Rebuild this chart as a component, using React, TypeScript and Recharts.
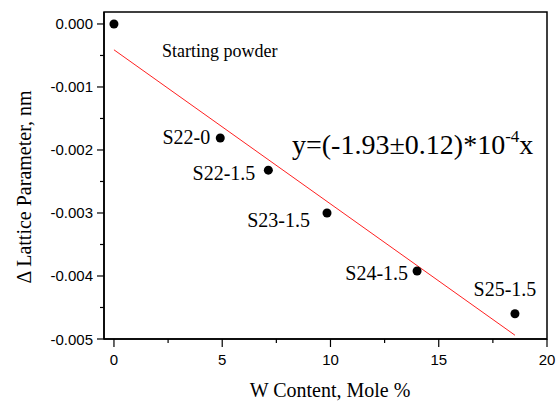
import React from "react";
import { ScatterChart, Scatter, XAxis, YAxis, ReferenceArea, Customized } from "recharts";

// sample names and measured values
const samples = ["Starting powder", "S22-0", "S22-1.5", "S23-1.5", "S24-1.5", "S25-1.5"];
const wContent = [0, 4.91, 7.13, 9.84, 14.0, 18.52];
const deltaLattice = [0, -0.00181, -0.00232, -0.003, -0.00392, -0.0046];

// linear fit drawn as a red line
const fitX = [0, 18.52];
const fitY = [-0.00041, -0.00494];

const xMajor = [0, 5, 10, 15, 20];
const xMinor = [2.5, 7.5, 12.5, 17.5];
const yMajor = [-0.005, -0.004, -0.003, -0.002, -0.001, 0];
const yMinor = [-0.0045, -0.0035, -0.0025, -0.0015, -0.0005];

const SERIF = "'Liberation Serif', 'Times New Roman', serif";
const SANS = "'Liberation Sans', Arial, sans-serif";

// where each sample label sits relative to its point
const labelPos = [
  { dx: 48, dy: 33, anchor: "start", size: 18 },
  { dx: -10, dy: 6, anchor: "end", size: 20 },
  { dx: -13, dy: 10, anchor: "end", size: 20 },
  { dx: -17, dy: 14, anchor: "end", size: 20 },
  { dx: -9, dy: 9, anchor: "end", size: 20 },
  { dx: -10, dy: -18, anchor: "middle", size: 20 },
];

const points = samples.map((name, i) => ({ name, idx: i, x: wContent[i], y: deltaLattice[i] }));
const fitData = fitX.map((x, i) => ({ x, y: fitY[i] }));

const isIn = (arr: number[], v: number) => arr.some((m) => Math.abs(m - v) < 1e-9);

const YTick = (props: any) => {
  const { x, y, payload } = props;
  const v = payload.value;
  const major = isIn(yMajor, v);
  return (
    <g>
      <line x1={x - (major ? 7 : 4)} x2={x} y1={y} y2={y} stroke="#000" strokeWidth={1.2} />
      {major && (
        <text x={x - 11} y={y} textAnchor="end" dominantBaseline="central" fontSize={15} fontFamily={SANS} fill="#000">
          {v.toFixed(3)}
        </text>
      )}
    </g>
  );
};

const XTick = (props: any) => {
  const { x, y, payload } = props;
  const v = payload.value;
  const major = isIn(xMajor, v);
  return (
    <g>
      <line x1={x} x2={x} y1={y} y2={y + (major ? 8 : 4)} stroke="#000" strokeWidth={1.2} />
      {major && (
        <text x={x} y={y + 20} textAnchor="middle" dominantBaseline="central" fontSize={15} fontFamily={SANS} fill="#000">
          {v}
        </text>
      )}
    </g>
  );
};

const SamplePoint = (props: any) => {
  const { cx, cy, payload } = props;
  const p = labelPos[payload.idx];
  return (
    <g>
      <circle cx={cx} cy={cy} r={4.5} fill="#000" />
      <text x={cx + p.dx} y={cy + p.dy} textAnchor={p.anchor} fontSize={p.size} fontFamily={SERIF} fill="#000">
        {payload.name}
      </text>
    </g>
  );
};

const Annotations = () => (
  <g fontFamily={SERIF} fill="#000">
    <text x={292} y={154} fontSize={28}>
      <tspan>y=(-1.93±0.12)*10</tspan>
      <tspan fontSize={17} dy={-12}>-4</tspan>
      <tspan dy={12}>x</tspan>
    </text>
    <text x={330} y={397} fontSize={20} textAnchor="middle">
      W Content, Mole %
    </text>
    <text x={31} y={187} fontSize={20} textAnchor="middle" transform="rotate(-90 31 187)">
      Δ Lattice Parameter, nm
    </text>
  </g>
);

export default function App() {
  return (
    <div style={{ position: "absolute", left: 0, top: 0, width: 556, height: 403, background: "#fff" }}>
      <ScatterChart width={556} height={403} margin={{ top: 12, right: 9, bottom: 0, left: 0 }}>
        <XAxis
          type="number"
          dataKey="x"
          domain={[-0.46, 20]}
          ticks={[...xMajor, ...xMinor].sort((a, b) => a - b)}
          interval={0}
          allowDataOverflow
          height={64}
          tickSize={0}
          tickMargin={0}
          tickLine={false}
          tick={<XTick />}
          axisLine={{ stroke: "#000", strokeWidth: 1.5 }}
        />
        <YAxis
          type="number"
          dataKey="y"
          domain={[-0.005, 0.00019]}
          ticks={[...yMajor, ...yMinor].sort((a, b) => a - b)}
          interval={0}
          allowDataOverflow
          width={104}
          tickSize={0}
          tickMargin={0}
          tickLine={false}
          tick={<YTick />}
          axisLine={{ stroke: "#000", strokeWidth: 1.5 }}
        />
        <ReferenceArea x1={-0.46} x2={20} y1={-0.005} y2={0.00019} fill="none" stroke="#000" strokeWidth={1.5} />
        <Scatter
          data={fitData}
          line={{ stroke: "#ff2020", strokeWidth: 1 }}
          shape={() => <g />}
          isAnimationActive={false}
        />
        <Scatter data={points} shape={<SamplePoint />} isAnimationActive={false} />
        <Customized component={Annotations} />
      </ScatterChart>
    </div>
  );
}
